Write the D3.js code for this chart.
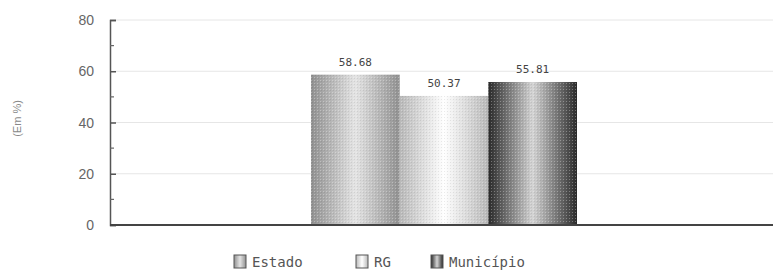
<!DOCTYPE html>
<html>
<head>
<meta charset="utf-8">
<script src="https://cdnjs.cloudflare.com/ajax/libs/d3/7.8.5/d3.min.js"></script>
<style>
    body { margin: 0; background: #fff; }
    svg { display: block; }
</style>
</head>
<body>
<div id="chart"></div>
<script>
var series = ['Estado', 'RG', 'Município'],
    values = [58.68, 50.37, 55.81],
    valueLabels = ['58.68', '50.37', '55.81'],
    yTicks = [0, 20, 40, 60, 80],
    yMinorTicks = [10, 30, 50, 70];

// shading per bar: edge colour, centre colour
var shades = {
    'Estado': ['#909090', '#e4e4e4'],
    'RG': ['#b8b8b8', '#ffffff'],
    'Município': ['#2a2a2a', '#d4d4d4']
};

var width = 773, height = 276,
    margin = {top: 20, right: 0, bottom: 51, left: 110},
    plotW = width - margin.left - margin.right,
    plotH = height - margin.top - margin.bottom;

var svg = d3.select('#chart').append('svg')
    .attr('width', width)
    .attr('height', height);

var defs = svg.append('defs');

series.forEach(function (s, i) {
    var g = defs.append('linearGradient')
        .attr('id', 'grad' + i)
        .attr('x1', 0).attr('x2', 1).attr('y1', 0).attr('y2', 0);
    g.append('stop').attr('offset', '0%').attr('stop-color', shades[s][0]);
    g.append('stop').attr('offset', '50%').attr('stop-color', shades[s][1]);
    g.append('stop').attr('offset', '100%').attr('stop-color', shades[s][0]);
});

// fine dither texture on top of the bars
var pat = defs.append('pattern')
    .attr('id', 'dither')
    .attr('width', 3).attr('height', 3)
    .attr('patternUnits', 'userSpaceOnUse');
pat.append('rect').attr('width', 1).attr('height', 1).attr('fill', 'rgba(255,255,255,0.3)');
pat.append('rect').attr('x', 1).attr('y', 1).attr('width', 1).attr('height', 1).attr('fill', 'rgba(0,0,0,0.08)');

var g = svg.append('g')
    .attr('transform', 'translate(' + margin.left + ',' + margin.top + ')');

var yScale = d3.scaleLinear().domain([0, 80]).range([plotH, 0]);

// bars are grouped in the middle of the plot
var xScale = d3.scaleBand()
    .domain(series)
    .range([201, 467])
    .padding(0);

// grid
g.selectAll('.grid')
    .data(yTicks.filter(function (d) { return d > 0; }))
    .enter().append('line')
    .attr('x1', 0).attr('x2', plotW)
    .attr('y1', yScale).attr('y2', yScale)
    .attr('stroke', '#e6e6e6')
    .attr('stroke-width', 1);

// bars
var bars = g.selectAll('.bar')
    .data(series)
    .enter().append('g')
    .attr('class', 'bar');

bars.append('rect')
    .attr('x', function (d) { return xScale(d); })
    .attr('y', function (d, i) { return yScale(values[i]); })
    .attr('width', xScale.bandwidth())
    .attr('height', function (d, i) { return plotH - yScale(values[i]); })
    .attr('fill', function (d, i) { return 'url(#grad' + i + ')'; });

bars.append('rect')
    .attr('x', function (d) { return xScale(d); })
    .attr('y', function (d, i) { return yScale(values[i]); })
    .attr('width', xScale.bandwidth())
    .attr('height', function (d, i) { return plotH - yScale(values[i]); })
    .attr('fill', 'url(#dither)');

bars.append('text')
    .attr('x', function (d) { return xScale(d) + xScale.bandwidth() / 2; })
    .attr('y', function (d, i) { return yScale(values[i]) - 9; })
    .attr('text-anchor', 'middle')
    .style('font-family', '"DejaVu Sans Mono", monospace')
    .style('font-size', '11px')
    .style('fill', '#444')
    .text(function (d, i) { return valueLabels[i]; });

// y axis
var yAxis = d3.axisRight(yScale)
    .tickValues(yTicks)
    .tickSize(6)
    .tickFormat('');

var yAxisG = g.append('g').call(yAxis);
yAxisG.select('.domain').attr('stroke', '#555').attr('stroke-width', 1.5);
yAxisG.selectAll('.tick line').attr('stroke', '#555').attr('stroke-width', 1.5);

g.selectAll('.minor')
    .data(yMinorTicks)
    .enter().append('line')
    .attr('x1', 0).attr('x2', 4)
    .attr('y1', yScale).attr('y2', yScale)
    .attr('stroke', '#666')
    .attr('stroke-width', 1.2);

g.selectAll('.ylabel')
    .data(yTicks)
    .enter().append('text')
    .attr('x', -16)
    .attr('y', function (d) { return yScale(d) + 5; })
    .attr('text-anchor', 'end')
    .style('font-family', '"Liberation Sans", Arial, sans-serif')
    .style('font-size', '14px')
    .style('fill', '#666')
    .text(function (d) { return d; });

// baseline
g.append('line')
    .attr('x1', 0).attr('x2', plotW)
    .attr('y1', plotH).attr('y2', plotH)
    .attr('stroke', '#444')
    .attr('stroke-width', 2);

// y title
svg.append('text')
    .attr('transform', 'translate(21,' + (margin.top + plotH / 2 - 4) + ') rotate(-90)')
    .attr('text-anchor', 'middle')
    .style('font-family', '"Liberation Sans", Arial, sans-serif')
    .style('font-size', '11px')
    .style('fill', '#888')
    .text('(Em %)');

// legend
var legendX = [234, 356, 431];
var legend = svg.selectAll('.legend')
    .data(series)
    .enter().append('g')
    .attr('transform', function (d, i) { return 'translate(' + legendX[i] + ',255)'; });

legend.append('rect')
    .attr('width', 12).attr('height', 13)
    .attr('fill', function (d, i) { return 'url(#grad' + i + ')'; })
    .attr('stroke', '#555')
    .attr('stroke-width', 1);

legend.append('text')
    .attr('x', 18)
    .attr('y', 12)
    .style('font-family', '"DejaVu Sans Mono", monospace')
    .style('font-size', '14px')
    .style('fill', '#555')
    .text(function (d) { return d; });
</script>
</body>
</html>
